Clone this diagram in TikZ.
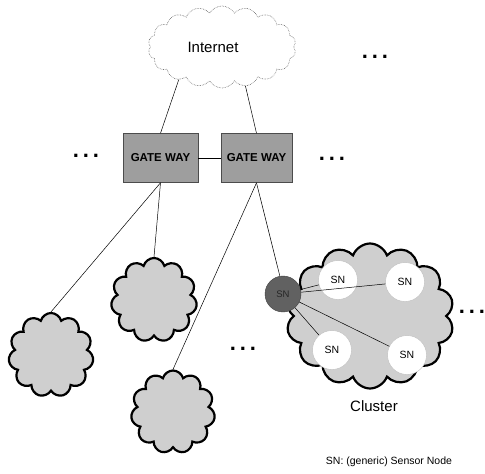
\documentclass[tikz,border=0pt]{standalone}
\usepackage{fontspec}
\setmainfont{Liberation Sans}
\usetikzlibrary{shapes.symbols}
\begin{document}
\begin{tikzpicture}[x=1pt,y=-1pt,
  wire/.style={draw=black,line width=0.5pt},
  gwbox/.style={draw=black!70,fill=black!38,line width=0.6pt,minimum width=75pt,minimum height=49pt,inner sep=0pt,font=\fontsize{11.5}{12}\selectfont\bfseries},
  bigcloud/.style={cloud,cloud puffs=11,cloud puff arc=150,cloud ignores aspect,draw=black,line width=2.2pt,fill=black!19,inner sep=0pt},
  netcloud/.style={cloud,cloud puffs=18,cloud puff arc=120,cloud ignores aspect,draw=black!60,densely dotted,line width=0.6pt,fill=white,inner sep=0pt},
  snnode/.style={circle,draw=black!25,fill=white,minimum size=39pt,inner sep=0pt,font=\fontsize{10.5}{11}\selectfont},
  sinknode/.style={circle,draw=black!75,fill=black!62,minimum size=36pt,inner sep=0pt,font=\fontsize{9.5}{10}\selectfont,text=black!85},
  dots/.style={font=\fontsize{22}{22}\selectfont\bfseries,inner sep=0pt},
  lbl/.style={inner sep=0pt}]
\useasboundingbox (0,0) rectangle (485,474);
% Internet
\node[netcloud,minimum width=148pt,minimum height=82pt] (inet) at (222,47) {};
\node[lbl,font=\fontsize{15}{16}\selectfont] (inettxt) at (213,47) {Internet};
% gateways
\node[gwbox] (gw1) at (160.5,158) {GATE WAY};
\node[gwbox,minimum width=71pt] (gw2) at (256.5,158) {GATE WAY};
% clouds
\node[bigcloud,minimum width=85pt,minimum height=84pt] (c1) at (51,355) {};
\node[bigcloud,minimum width=86pt,minimum height=84pt] (c2) at (154,300) {};
\node[bigcloud,minimum width=84pt,minimum height=83pt] (c3) at (173,412) {};
\node[bigcloud,cloud puffs=14,cloud puff arc=140,minimum width=168pt,minimum height=145pt] (cl) at (370,316) {};
% sensor nodes
\node[snnode] (sn1) at (338,280) {SN};
\node[snnode] (sn2) at (405,282) {SN};
\node[snnode] (sn3) at (332,350) {SN};
\node[snnode] (sn4) at (407,355) {SN};
% connectors
\draw[wire] (inet.217) -- (gw1.north);
\draw[wire] (inet.301) -- (gw2.north);
\draw[wire] (gw1.east) -- (gw2.west);
\draw[wire] (gw1.south) -- (c1.north);
\draw[wire] (gw1.south) -- (c2.north);
\draw[wire] (gw2.south) -- (c3.north);
\node[sinknode] (sn0) at (283,294) {SN};
\draw[wire] (gw2.south) -- (sn0.100);
\draw[wire] (sn0) -- (sn1);
\draw[wire] (sn0) -- (sn2);
\draw[wire] (sn0) -- (sn3);
\draw[wire] (sn0) -- (sn4);
% dots
\node[dots] (d1) at (375,57) {.\hspace{3.9pt}.\hspace{3.9pt}.};
\node[dots] (d2) at (86,156) {.\hspace{3.9pt}.\hspace{3.9pt}.};
\node[dots] (d3) at (332,159) {.\hspace{3.9pt}.\hspace{3.9pt}.};
\node[dots] (d4) at (243,349) {.\hspace{3.9pt}.\hspace{3.9pt}.};
\node[dots] (d5) at (472,312) {.\hspace{3.9pt}.\hspace{3.9pt}.};
% labels
\node[lbl,font=\fontsize{15}{16}\selectfont] (cltxt) at (374,406) {Cluster};
\node[lbl,font=\fontsize{10.5}{12}\selectfont] (legend) at (389,462) {SN: (generic) Sensor Node};
\end{tikzpicture}
\end{document}
